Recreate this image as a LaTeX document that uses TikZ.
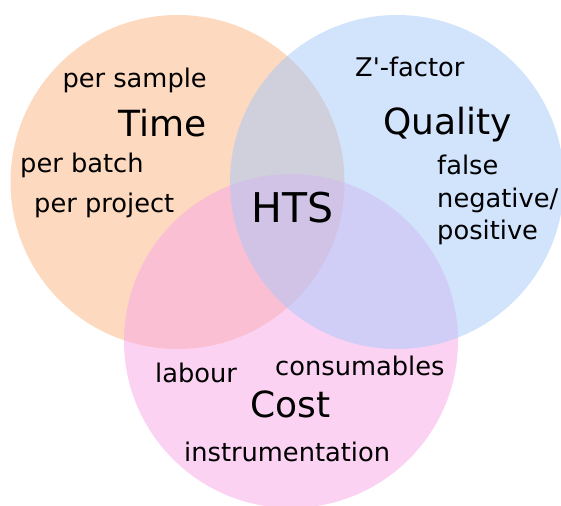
\documentclass[tikz,border=0pt]{standalone}
\usepackage{fontspec}
\setmainfont{DejaVu Sans}
\begin{document}
\definecolor{timefill}{RGB}{250,180,128}
\definecolor{qualfill}{RGB}{165,200,250}
\definecolor{costfill}{RGB}{250,165,230}
\begin{tikzpicture}[x=1pt,y=-1pt,
  set/.style={fill opacity=0.5},
  small/.style={inner sep=0pt,anchor=base west,font=\fontsize{25.7}{30}\selectfont},
  big/.style={inner sep=0pt,anchor=base west,font=\fontsize{36}{42}\selectfont},
  huge/.style={inner sep=0pt,anchor=base west,font=\fontsize{41}{48}\selectfont}]
\useasboundingbox (0,0) rectangle (561,505);
\begin{scope}
\clip (0,0) rectangle (561,505);
% the three sets, layered time, cost, quality
\fill[set,timefill] (177.5,182) circle[radius=167];
\fill[set,costfill] (291,341) circle[radius=167];
\fill[set,qualfill] (397,182) circle[radius=167];
\end{scope}
% Time
\node[small,anchor=base east] (persample) at (207,88) {per sample};
\node[big,anchor=base east] (time) at (207,136) {Time};
\node[small] (perbatch) at (20,172) {per batch};
\node[small] (perproject) at (34,212) {per project};
% centre
\node[huge] (hts) at (251,222) {HTS};
% Quality
\node[small] (zfactor) at (355,77) {Z\textquotesingle-factor};
\node[big] (quality) at (383,135) {Quality};
\node[small] (false) at (437,174) {false};
\node[small] (negative) at (437,207) {negative/};
\node[small] (positive) at (437,239) {positive};
% Cost
\node[small] (labour) at (155,382) {labour};
\node[small] (consumables) at (275,375) {consumables};
\node[big] (cost) at (250,417) {Cost};
\node[small] (instrumentation) at (184,461) {instrumentation};
\end{tikzpicture}
\end{document}
